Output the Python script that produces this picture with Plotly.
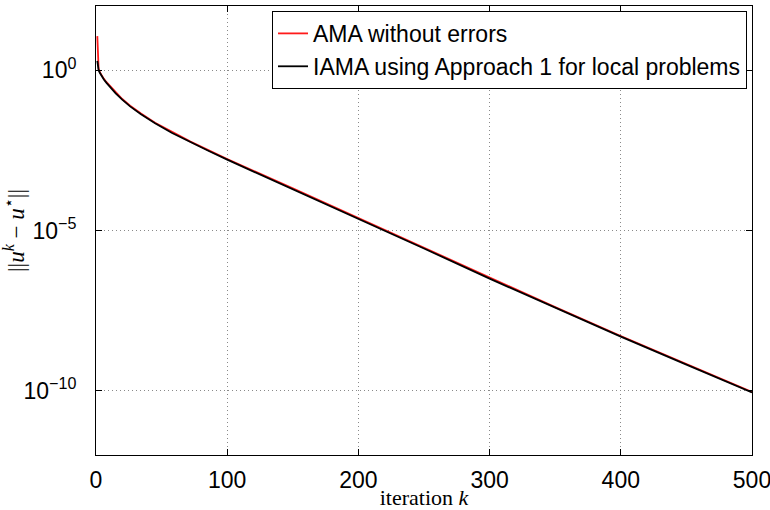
import plotly.graph_objects as go

# iteration index
k = [1, 2, 3, 4, 6, 8, 11, 15, 20, 26, 34, 45, 58, 72, 86, 100,
     150, 200, 250, 300, 350, 400, 450, 500]

# AMA without errors
ama = [11.5, 1.1, 0.85, 0.71, 0.535, 0.42, 0.305, 0.2, 0.126, 0.078,
       0.045, 0.023, 0.0116, 5.9e-3, 3.15e-3, 1.7e-3, 2.05e-4, 2.45e-5,
       2.9e-6, 3.3e-7, 4.1e-8, 5.15e-9, 6.9e-10, 9.3e-11]

# IAMA using Approach 1 for local problems
iama = [1.95, 1.0, 0.81, 0.68, 0.51, 0.40, 0.29, 0.19, 0.12, 0.074,
        0.043, 0.022, 0.011, 5.6e-3, 3.0e-3, 1.62e-3, 1.95e-4, 2.34e-5,
        2.75e-6, 3.16e-7, 3.9e-8, 4.9e-9, 6.6e-10, 8.9e-11]

x_ticks = [0, 100, 200, 300, 400, 500]
y_ticks = [1e0, 1e-5, 1e-10]
y_ticktext = ["10<sup>0</sup>", "10<sup>−5</sup>", "10<sup>−10</sup>"]

fig = go.Figure()
fig.add_trace(go.Scatter(x=k, y=ama, mode="lines", name="AMA without errors",
                         line=dict(color="#ff1a1a", width=1.8)))
fig.add_trace(go.Scatter(x=k, y=iama, mode="lines",
                         name="IAMA using Approach 1 for local problems",
                         line=dict(color="black", width=1.8)))

axis_common = dict(showline=True, linecolor="black", linewidth=1, mirror="allticks",
                   ticks="inside", ticklen=6, tickcolor="black",
                   showgrid=True, gridcolor="#8a8a8a", griddash="1px,3px", gridwidth=1,
                   zeroline=False, automargin=False, ticklabeloverflow="allow",
                   tickfont=dict(family="Liberation Sans, Arial", size=23, color="black"))

fig.update_xaxes(range=[0, 500], tickvals=x_ticks, ticklabelstandoff=4,
                 title=dict(text="iteration <i>k</i>", standoff=0,
                            font=dict(family="Liberation Serif, DejaVu Serif", size=22, color="black")),
                 **axis_common)
fig.update_yaxes(type="log", range=[-12, 2], tickvals=y_ticks, ticktext=y_ticktext,
                 ticklabelstandoff=14,
                 title=dict(text="||<i>u</i><sup><i>k</i></sup> − <i>u</i><sup>⋆</sup>||", standoff=4,
                            font=dict(family="Liberation Serif, DejaVu Serif", size=23, color="black")),
                 **axis_common)

fig.update_layout(
    template="none",
    width=770, height=510,
    margin=dict(l=96, r=18, t=6, b=55),
    paper_bgcolor="white", plot_bgcolor="white",
    showlegend=True,
    legend=dict(x=0.9924, xanchor="right", y=0.989, yanchor="top",
                bgcolor="white", bordercolor="black", borderwidth=1,
                itemwidth=30, tracegroupgap=0,
                font=dict(family="Liberation Sans, Arial", size=23, color="black")),
)

fig.write_html("out.html")
